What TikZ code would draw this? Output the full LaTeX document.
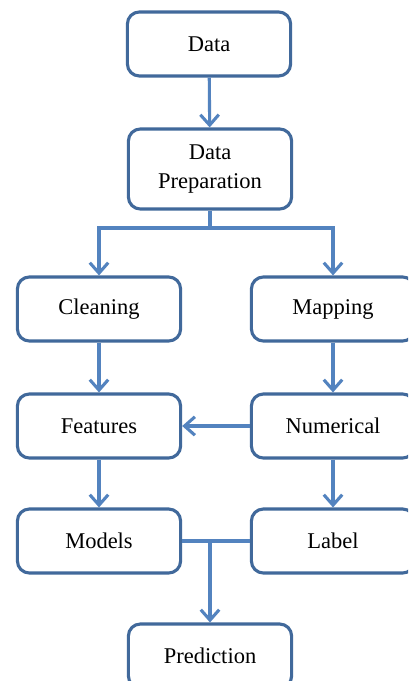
\documentclass[tikz,border=0pt]{standalone}
\usepackage{fontspec}
\setmainfont{Liberation Serif}
\usetikzlibrary{arrows.meta}

\definecolor{boxline}{HTML}{41699B}
\definecolor{flowline}{HTML}{5383BF}

\tikzset{
    stage/.style={draw=boxline, line width=2.2pt, rounded corners=0.3cm, fill=white,
        minimum width=4.08cm, minimum height=1.6cm, align=center,
        font=\fontsize{16}{20}\selectfont},
    flow/.style={draw=flowline, line width=2.2pt, -{Straight Barb[length=2.6mm, width=4.6mm, line width=2.2pt]}},
    flowjoin/.style={draw=flowline, line width=2.2pt}
}

\begin{document}
\begin{tikzpicture}[x=0.025cm, y=-0.025cm]
        \clip (0, 0) rectangle (408, 681);
        \fill[white] (0, 0) rectangle (408, 681);

        % top of the flow
        \node[stage] (data) at (209, 44) {Data};
        \node[stage, minimum height=2cm] (prep) at (210, 169) {Data\\Preparation};

        % two branches
        \node[stage] (clean) at (99, 309) {Cleaning};
        \node[stage] (map) at (333, 309) {Mapping};

        \node[stage] (feat) at (99, 426) {Features};
        \node[stage] (num) at (333, 426) {Numerical};

        \node[stage] (models) at (99, 541) {Models};
        \node[stage] (label) at (333, 541) {Label};

        \node[stage] (pred) at (210, 656) {Prediction};

        \draw[flow] (data) -- (prep);

        \coordinate (split) at (210, 228);
        \draw[flowjoin] (prep.south) -- (split);
        \draw[flow] (split) -| (clean.north);
        \draw[flow] (split) -| (map.north);

        \draw[flow] (clean) -- (feat);
        \draw[flow] (map) -- (num);
        \draw[flow] (num) -- (feat);

        \draw[flow] (feat) -- (models);
        \draw[flow] (num) -- (label);

        \coordinate (merge) at (210, 541);
        \draw[flowjoin] (models.east) -- (label.west);
        \draw[flow] (merge) -- (pred.north);
    \end{tikzpicture}
\end{document}
